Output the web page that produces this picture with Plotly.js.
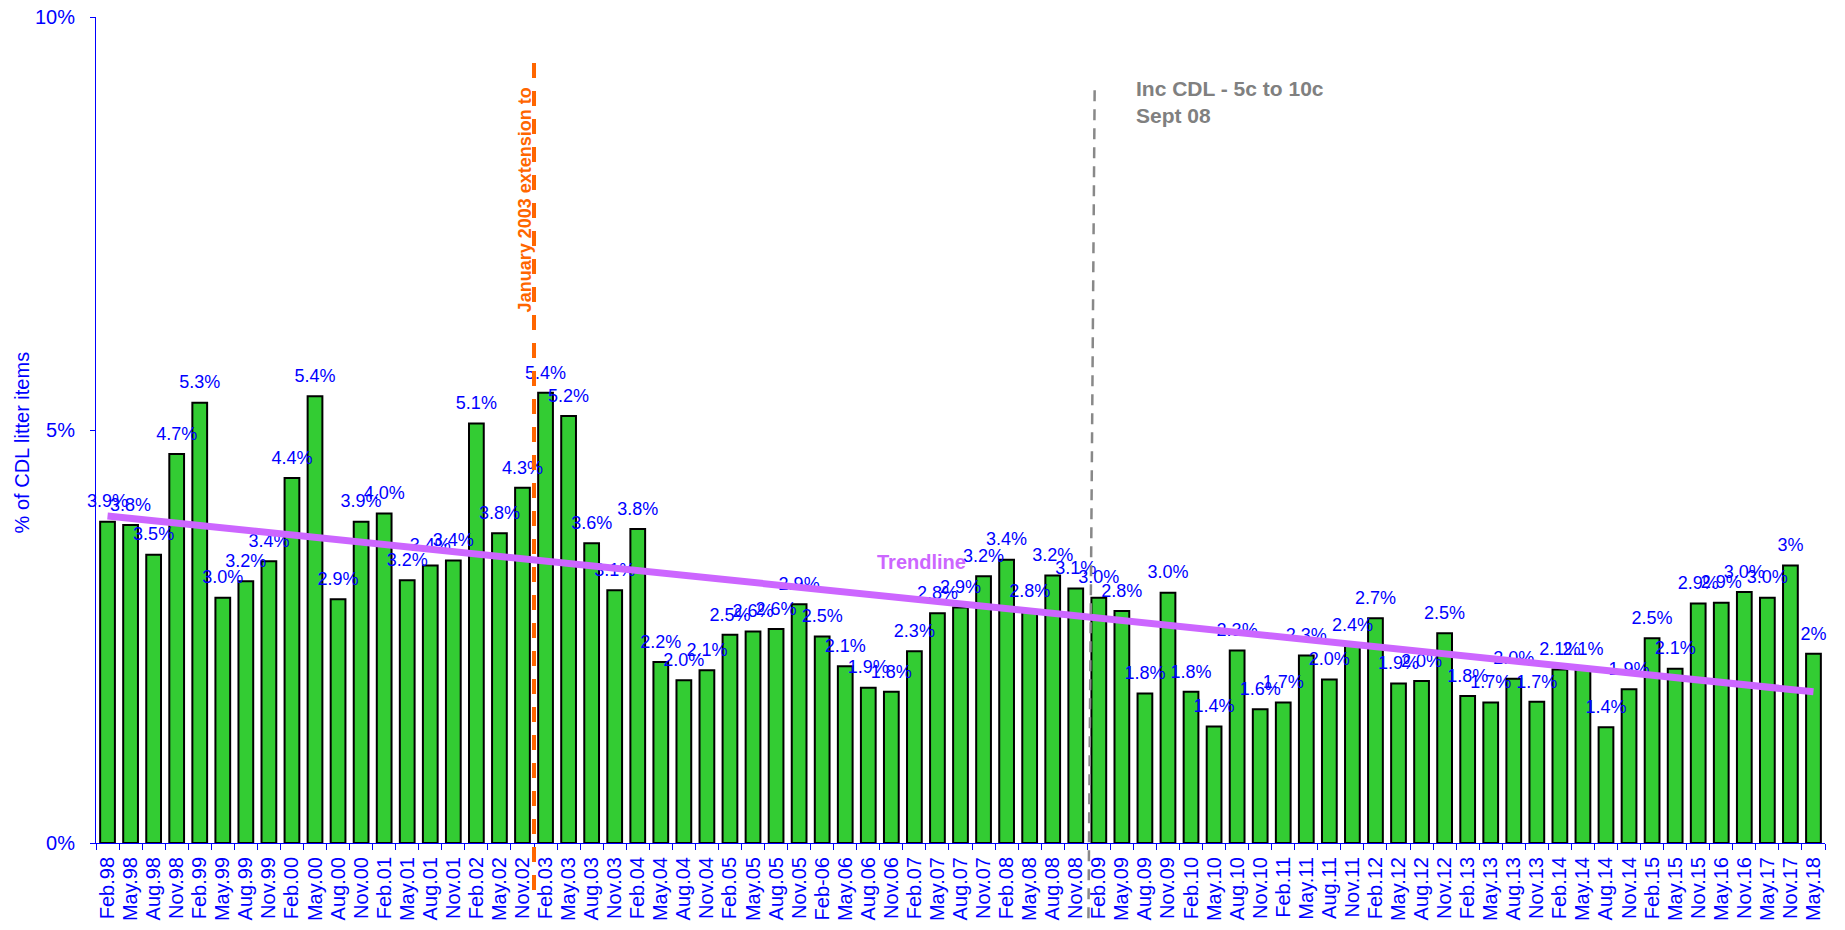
<!DOCTYPE html>
<html>
<head>
<meta charset="utf-8">
<script src="https://cdn.plot.ly/plotly-3.0.1.min.js"></script>
<style>html,body{margin:0;padding:0;background:#fff;}#chart{width:1845px;height:930px;}</style>
</head>
<body>
<div id="chart"></div>
<script>
const categories = ["Feb.98","May.98","Aug.98","Nov.98","Feb.99","May.99","Aug.99","Nov.99","Feb.00","May.00","Aug.00","Nov.00","Feb.01","May.01","Aug.01","Nov.01","Feb.02","May.02","Nov.02","Feb.03","May.03","Aug.03","Nov.03","Feb.04","May.04","Aug.04","Nov.04","Feb.05","May.05","Aug.05","Nov.05","Feb-06","May.06","Aug.06","Nov.06","Feb.07","May.07","Aug.07","Nov.07","Feb.08","May.08","Aug.08","Nov.08","Feb.09","May.09","Aug.09","Nov.09","Feb.10","May.10","Aug.10","Nov.10","Feb.11","May.11","Aug.11","Nov.11","Feb.12","May.12","Aug.12","Nov.12","Feb.13","May.13","Aug.13","Nov.13","Feb.14","May.14","Aug.14","Nov.14","Feb.15","May.15","Nov.15","May.16","Nov.16","May.17","Nov.17","May.18"];
const values = [3.89,3.85,3.49,4.71,5.33,2.97,3.17,3.41,4.42,5.41,2.95,3.89,3.99,3.18,3.36,3.42,5.08,3.75,4.30,5.45,5.17,3.63,3.06,3.80,2.19,1.97,2.09,2.52,2.56,2.59,2.89,2.50,2.14,1.88,1.83,2.32,2.78,2.85,3.23,3.43,2.80,3.24,3.08,2.97,2.81,1.81,3.03,1.83,1.41,2.33,1.62,1.70,2.27,1.98,2.40,2.72,1.93,1.96,2.54,1.78,1.70,1.99,1.71,2.10,2.10,1.40,1.86,2.48,2.11,2.90,2.91,3.04,2.97,3.36,2.29];
const labels = ["3.9%","3.8%","3.5%","4.7%","5.3%","3.0%","3.2%","3.4%","4.4%","5.4%","2.9%","3.9%","4.0%","3.2%","3.4%","3.4%","5.1%","3.8%","4.3%","5.4%","5.2%","3.6%","3.1%","3.8%","2.2%","2.0%","2.1%","2.5%","2.6%","2.6%","2.9%","2.5%","2.1%","1.9%","1.8%","2.3%","2.8%","2.9%","3.2%","3.4%","2.8%","3.2%","3.1%","3.0%","2.8%","1.8%","3.0%","1.8%","1.4%","2.3%","1.6%","1.7%","2.3%","2.0%","2.4%","2.7%","1.9%","2.0%","2.5%","1.8%","1.7%","2.0%","1.7%","2.1%","2.1%","1.4%","1.9%","2.5%","2.1%","2.9%","2.9%","3.0%","3.0%","3%","2%"];
const yTickVals = [0, 5, 10];
const yTickText = ["0%", "5%", "10%"];
const yTitle = "% of CDL litter items";
const trendX = [categories[0], categories[categories.length - 1]];
const trendY = [3.96, 1.83];

const FONT = "Liberation Sans, Arial, sans-serif";
const BLUE = "#0000FF";

const bars = {
  type: "bar", x: categories, y: values,
  marker: { color: "#33CC33", line: { color: "#000000", width: 2 } },
  hoverinfo: "x+y", showlegend: false
};
const valueText = {
  type: "scatter", mode: "markers+text", x: categories, y: values, text: labels,
  textposition: "top center",
  textfont: { family: FONT, size: 18, color: BLUE },
  marker: { size: 14, color: "rgba(0,0,0,0)" },
  hoverinfo: "skip", showlegend: false, cliponaxis: false
};
const trend = {
  type: "scatter", mode: "lines", x: trendX, y: trendY,
  line: { color: "#CC66FF", width: 7 },
  hoverinfo: "skip", showlegend: false
};

const layout = {
  width: 1845, height: 930,
  margin: { l: 96, r: 20, t: 17, b: 87 },
  paper_bgcolor: "#ffffff", plot_bgcolor: "#ffffff",
  font: { family: FONT, color: BLUE },
  bargap: 0.36,
  showlegend: false,
  xaxis: {
    type: "category", range: [-0.5, categories.length - 0.5], autorange: false,
    tickmode: "linear", tick0: 0, dtick: 1,
    tickangle: -90,
    tickfont: { family: FONT, size: 20, color: BLUE },
    ticks: "outside", tickson: "boundaries", ticklen: 6, tickcolor: BLUE, tickwidth: 1,
    showline: true, linecolor: BLUE, linewidth: 1,
    showgrid: false, zeroline: false, automargin: false,
    ticklabelstandoff: 5
  },
  yaxis: {
    range: [0, 10], autorange: false, tickvals: yTickVals, ticktext: yTickText,
    tickfont: { family: FONT, size: 20, color: BLUE },
    ticks: "outside", ticklen: 5, tickcolor: BLUE, tickwidth: 1,
    showline: true, linecolor: BLUE, linewidth: 1,
    showgrid: false, zeroline: false, automargin: false,
    ticklabelstandoff: 11
  },
  shapes: [
    { type: "line", xref: "x", yref: "paper", x0: 18.5, x1: 18.5, y0: -0.057, y1: 0.946,
      line: { color: "#FF6600", width: 4, dash: "15px,13px" } },
    { type: "line", xref: "x", yref: "paper", x0: 42.55, x1: 42.82, y0: -0.091, y1: 0.914,
      line: { color: "#888888", width: 2.5, dash: "11px,8px" } }
  ],
  annotations: [
    { xref: "paper", yref: "paper", x: -0.0428, y: 0.485, text: yTitle, textangle: -90,
      showarrow: false, xanchor: "center", yanchor: "middle",
      font: { family: FONT, size: 20, color: BLUE } },
    { xref: "x", yref: "y", x: 35.3, y: 3.4, text: "<b>Trendline</b>", showarrow: false,
      font: { family: FONT, size: 20, color: "#CC66FF" } },
    { xref: "x", yref: "paper", x: 18.5, xshift: -9, y: 0.778, text: "<b>January 2003 extension to</b>",
      textangle: -90, showarrow: false, xanchor: "center", yanchor: "middle",
      font: { family: FONT, size: 18, color: "#FF6600" } },
    { xref: "x", yref: "paper", x: 44.53, y: 0.93, xanchor: "left", yanchor: "top", align: "left",
      text: "<b>Inc CDL - 5c to 10c<br>Sept 08</b>", showarrow: false,
      font: { family: FONT, size: 21, color: "#808080" } }
  ]
};

Plotly.newPlot("chart", [bars, valueText, trend], layout, { displayModeBar: false, staticPlot: true });
</script>
</body>
</html>
